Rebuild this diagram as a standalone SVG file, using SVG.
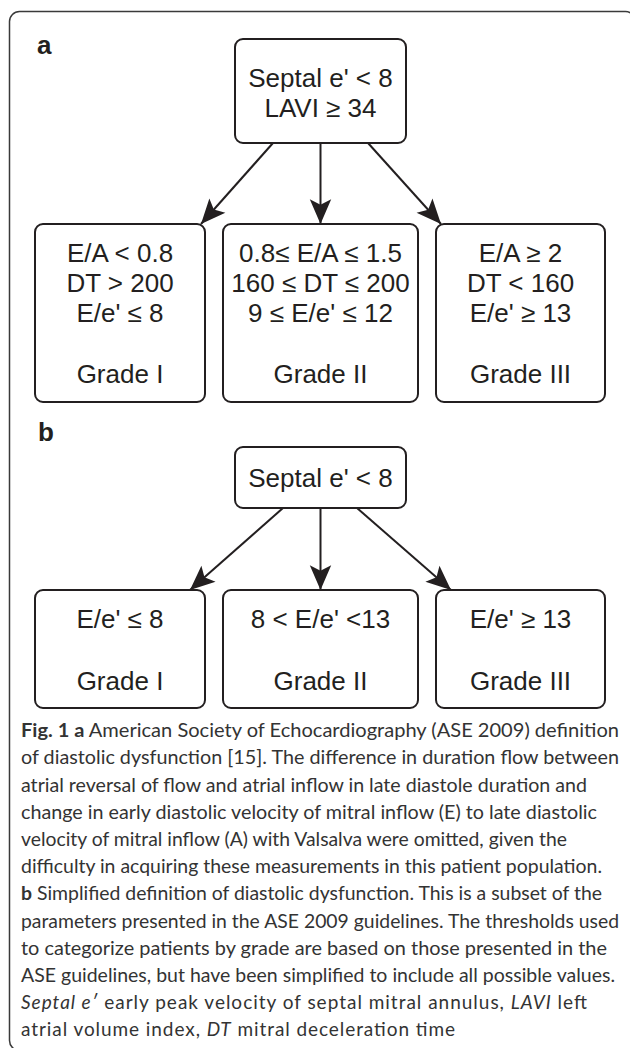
<svg xmlns="http://www.w3.org/2000/svg" width="630" height="1048" viewBox="0 0 630 1048">
<style>
.frame{fill:none;stroke:#3a3a3a;stroke-width:1.5}
.box{fill:#fff;stroke:#231f20;stroke-width:2}
.t{font-family:"Liberation Sans",Arial,sans-serif;font-size:26px;fill:#231f20;text-anchor:middle}
.lab{font-family:"Liberation Sans",Arial,sans-serif;font-size:26px;font-weight:bold;fill:#231f20}
.edge{stroke:#231f20;stroke-width:2;fill:none;marker-end:url(#ah)}
.cap{font-family:Lato,"Open Sans",sans-serif;font-size:19px;fill:#333}
.b{font-weight:bold}
.i{font-style:italic}
</style>
<defs>
<marker id="ah" markerUnits="userSpaceOnUse" orient="auto" markerWidth="30" markerHeight="30" refX="23" refY="0" viewBox="-2 -12 28 24" overflow="visible">
<path d="M23,0 L0,-10 L5,0 L0,10 Z" fill="#231f20"/>
</marker>
</defs>
<rect class="frame" x="9.5" y="11.5" width="626" height="1039" rx="10"/>

<text class="lab" x="37" y="54">a</text>
<text class="lab" x="38" y="441">b</text>

<g id="connectors">
<line class="edge" x1="273" y1="143" x2="201" y2="224"/>
<line class="edge" x1="320.5" y1="143" x2="320.5" y2="224"/>
<line class="edge" x1="368" y1="143" x2="441" y2="224"/>
<line class="edge" x1="283" y1="508" x2="190" y2="590"/>
<line class="edge" x1="320.5" y1="508" x2="320.5" y2="590"/>
<line class="edge" x1="357" y1="508" x2="451" y2="590"/>
</g>

<g id="a-root">
<rect class="box" x="235" y="39" width="171" height="104" rx="8"/>
<text class="t" x="320.5" y="87">Septal e' &lt; 8</text>
<text class="t" x="320.5" y="117">LAVI ≥ 34</text>
</g>
<g id="a-grade1">
<rect class="box" x="35" y="224" width="170" height="178" rx="8"/>
<text class="t" x="120" y="262">E/A &lt; 0.8</text>
<text class="t" x="120" y="292">DT &gt; 200</text>
<text class="t" x="120" y="322">E/e' ≤ 8</text>
<text class="t" x="120" y="383">Grade I</text>
</g>
<g id="a-grade2">
<rect class="box" x="223" y="224" width="195" height="178" rx="8"/>
<text class="t" x="320.5" y="262">0.8≤ E/A ≤ 1.5</text>
<text class="t" x="320.5" y="292">160 ≤ DT ≤ 200</text>
<text class="t" x="320.5" y="322">9 ≤ E/e' ≤ 12</text>
<text class="t" x="320.5" y="383">Grade II</text>
</g>
<g id="a-grade3">
<rect class="box" x="436" y="224" width="169" height="178" rx="8"/>
<text class="t" x="520.5" y="262">E/A ≥ 2</text>
<text class="t" x="520.5" y="292">DT &lt; 160</text>
<text class="t" x="520.5" y="322">E/e' ≥ 13</text>
<text class="t" x="520.5" y="383">Grade III</text>
</g>

<g id="b-root">
<rect class="box" x="235" y="447" width="171" height="61" rx="8"/>
<text class="t" x="320.5" y="487">Septal e' &lt; 8</text>
</g>
<g id="b-grade1">
<rect class="box" x="35" y="590" width="170" height="118" rx="8"/>
<text class="t" x="120" y="628">E/e' ≤ 8</text>
<text class="t" x="120" y="690">Grade I</text>
</g>
<g id="b-grade2">
<rect class="box" x="223" y="590" width="195" height="118" rx="8"/>
<text class="t" x="320.5" y="628">8 &lt; E/e' &lt;13</text>
<text class="t" x="320.5" y="690">Grade II</text>
</g>
<g id="b-grade3">
<rect class="box" x="436" y="590" width="169" height="118" rx="8"/>
<text class="t" x="520.5" y="628">E/e' ≥ 13</text>
<text class="t" x="520.5" y="690">Grade III</text>
</g>

<g id="caption" class="cap">
<text x="21" y="737" textLength="598" lengthAdjust="spacingAndGlyphs"><tspan class="b">Fig. 1 a</tspan> American Society of Echocardiography (ASE 2009) definition</text>
<text x="21" y="764" textLength="598" lengthAdjust="spacingAndGlyphs">of diastolic dysfunction [15]. The difference in duration flow between</text>
<text x="21" y="791.5" textLength="566" lengthAdjust="spacingAndGlyphs">atrial reversal of flow and atrial inflow in late diastole duration and</text>
<text x="21" y="818.5" textLength="576" lengthAdjust="spacingAndGlyphs">change in early diastolic velocity of mitral inflow (E) to late diastolic</text>
<text x="21" y="846" textLength="546" lengthAdjust="spacingAndGlyphs">velocity of mitral inflow (A) with Valsalva were omitted, given the</text>
<text x="21" y="873" textLength="581" lengthAdjust="spacingAndGlyphs">difficulty in acquiring these measurements in this patient population.</text>
<text x="21" y="900" textLength="581" lengthAdjust="spacingAndGlyphs"><tspan class="b">b</tspan> Simplified definition of diastolic dysfunction. This is a subset of the</text>
<text x="21" y="927.5" textLength="598" lengthAdjust="spacingAndGlyphs">parameters presented in the ASE 2009 guidelines. The thresholds used</text>
<text x="21" y="954.5" textLength="586" lengthAdjust="spacingAndGlyphs">to categorize patients by grade are based on those presented in the</text>
<text x="21" y="982" textLength="594" lengthAdjust="spacingAndGlyphs">ASE guidelines, but have been simplified to include all possible values.</text>
<text x="21" y="1009" textLength="566" lengthAdjust="spacing"><tspan class="i">Septal e′</tspan> early peak velocity of septal mitral annulus, <tspan class="i">LAVI</tspan> left</text>
<text x="21" y="1036" textLength="434" lengthAdjust="spacing">atrial volume index, <tspan class="i">DT</tspan> mitral deceleration time</text>
</g>
</svg>
